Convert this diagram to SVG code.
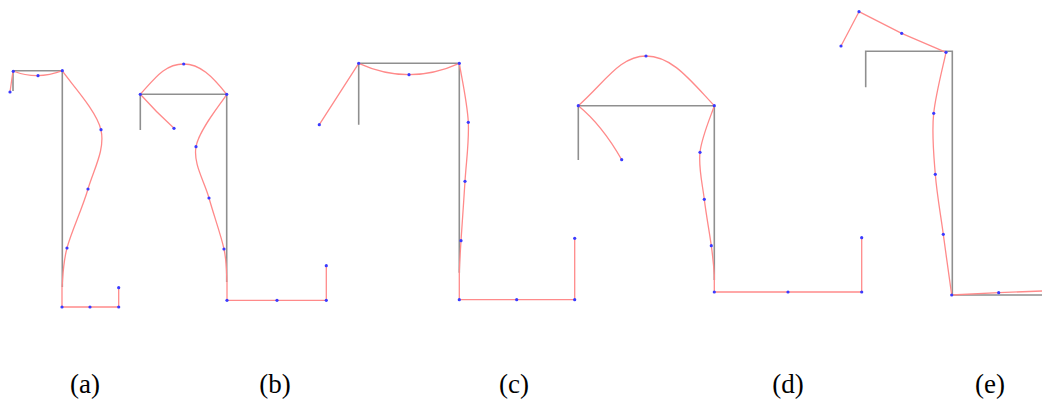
<svg xmlns="http://www.w3.org/2000/svg" width="1042" height="402" viewBox="0 0 1042 402">
<style>
.g{fill:none;stroke:#8f8f8f;stroke-width:1.6}
.r{fill:none;stroke:#ff8a8a;stroke-width:1.3;stroke-linejoin:round}
.d{fill:#3a3aff}
.t{font-family:"Liberation Serif","Times New Roman",serif;font-size:27px;fill:#000;text-anchor:middle}
</style>
<rect width="1042" height="402" fill="#fff"/>
<g id="panel-a">
<path class="g" d="M13,91 V70.7 H62.3 V287"/>
<path class="r" d="M10,92 L13,71 Q37.5,80.5 62.3,70.7 C68.5,80.8 96.7,110.3 101,130 C105.3,149.7 93.7,169.3 88,189 C82.3,208.7 71.3,231.7 67,248 C62.7,264.3 62.8,280.5 62,287 L62,307 H118.7 V287.7"/>
<g class="d"><circle cx="10" cy="92" r="1.6"/><circle cx="13.3" cy="71.3" r="1.6"/><circle cx="38" cy="75.7" r="1.6"/><circle cx="62.3" cy="70.7" r="1.6"/><circle cx="101" cy="129.7" r="1.6"/><circle cx="88" cy="189" r="1.6"/><circle cx="67" cy="248" r="1.6"/><circle cx="62" cy="307" r="1.6"/><circle cx="90" cy="307" r="1.6"/><circle cx="118.7" cy="307" r="1.6"/><circle cx="118.7" cy="287.7" r="1.6"/></g>
<text class="t" x="85" y="393">(a)</text>
</g>
<g id="panel-b">
<path class="g" d="M140.3,130 V94.3 H226.7 V282"/>
<path class="r" d="M174,128.3 Q156,112 140.3,94.3 C155,78 165,64 183.7,64 C200,64 212,76 226.7,94.3 C221.6,103 198.95,129.4 196,146.7 C193.05,164 204.3,180.95 209,198 C213.7,215.05 221,235 224,249 C227,263 226.5,276.5 227,282 L227,300.3 H326.3 V265.7"/>
<g class="d"><circle cx="174" cy="128.3" r="1.6"/><circle cx="140.3" cy="94.3" r="1.6"/><circle cx="183.7" cy="64" r="1.6"/><circle cx="226.7" cy="94.3" r="1.6"/><circle cx="196" cy="146.7" r="1.6"/><circle cx="209" cy="198" r="1.6"/><circle cx="224" cy="249" r="1.6"/><circle cx="227" cy="300.3" r="1.6"/><circle cx="277" cy="300.3" r="1.6"/><circle cx="326.3" cy="300.3" r="1.6"/><circle cx="326.3" cy="265.7" r="1.6"/></g>
<text class="t" x="275" y="393">(b)</text>
</g>
<g id="panel-c">
<path class="g" d="M358.7,124.7 V63.3 H459.3 V272.7"/>
<path class="r" d="M319.3,124.7 L358.7,63.3 Q409,86 459.3,63.3 C460.8,73.1 467.35,102.6 468.3,122.3 C469.25,142 466.2,161.6 465,181.3 C463.8,201 461.95,225.6 461,240.7 C460.05,255.8 459.5,267 459.3,272 L459.3,299.7 H574.7 V238.3"/>
<g class="d"><circle cx="319.3" cy="124.7" r="1.6"/><circle cx="358.7" cy="63.3" r="1.6"/><circle cx="409" cy="74.7" r="1.6"/><circle cx="459.3" cy="63.3" r="1.6"/><circle cx="468.3" cy="122.3" r="1.6"/><circle cx="465" cy="181.3" r="1.6"/><circle cx="461" cy="240.7" r="1.6"/><circle cx="459.3" cy="299.7" r="1.6"/><circle cx="516.7" cy="299.7" r="1.6"/><circle cx="574.7" cy="299.7" r="1.6"/><circle cx="574.7" cy="238.3" r="1.6"/></g>
<text class="t" x="514" y="393">(c)</text>
</g>
<g id="panel-d">
<path class="g" d="M578.3,160 V105.7 H714.3 V280"/>
<path class="r" d="M621.7,159.7 Q602,125 578.3,105.7 C605,82 620,56 646,56 C672,56 690,80 714.3,105.7 C711.9,113.5 701.7,136.7 700,152.3 C698.3,167.9 702.4,183.7 704.3,199.3 C706.2,214.9 709.6,233.1 711.3,245.7 C713,258.3 714,270 714.3,275 L714.3,292 H861.7 V237.7"/>
<g class="d"><circle cx="621.7" cy="159.7" r="1.6"/><circle cx="578.3" cy="105.7" r="1.6"/><circle cx="646" cy="56" r="1.6"/><circle cx="714.3" cy="105.7" r="1.6"/><circle cx="700" cy="152.3" r="1.6"/><circle cx="704.3" cy="199.3" r="1.6"/><circle cx="711.3" cy="245.7" r="1.6"/><circle cx="714.3" cy="292" r="1.6"/><circle cx="788" cy="292" r="1.6"/><circle cx="861.7" cy="292" r="1.6"/><circle cx="861.7" cy="237.7" r="1.6"/></g>
<text class="t" x="788" y="393">(d)</text>
</g>
<g id="panel-e">
<path class="g" d="M865.7,87.3 V51.3 H952.3 V295 H1042"/>
<path class="r" d="M841,46 L859,11.7 L901.7,33.3 L946,52.3 C944,62.5 935.9,92.97 933.7,113.3 C931.5,133.6 933.7,154.1 935.3,174.3 C936.9,194.5 940.6,214.2 943.3,234.3 C946,254.4 950.3,284.9 951.7,295 L998.7,292.7 L1042,291"/>
<g class="d"><circle cx="841" cy="46" r="1.6"/><circle cx="859" cy="11.7" r="1.6"/><circle cx="901.7" cy="33.3" r="1.6"/><circle cx="946" cy="52.3" r="1.6"/><circle cx="933.7" cy="113.3" r="1.6"/><circle cx="935.3" cy="174.3" r="1.6"/><circle cx="943.3" cy="234.3" r="1.6"/><circle cx="951.7" cy="295" r="1.6"/><circle cx="998.7" cy="292.7" r="1.6"/></g>
<text class="t" x="990" y="393">(e)</text>
</g>
</svg>
